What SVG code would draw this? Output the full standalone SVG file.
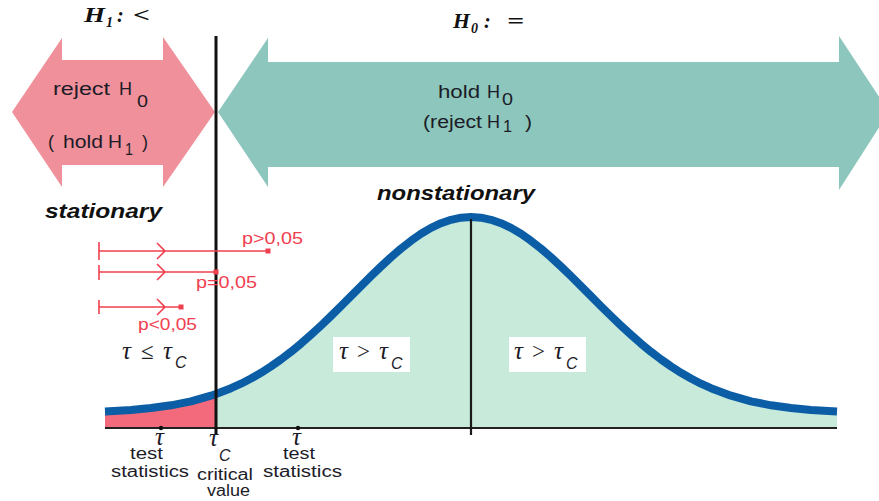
<svg xmlns="http://www.w3.org/2000/svg" width="879" height="501" viewBox="0 0 879 501">
<style>
.t{font-family:"Liberation Sans",Arial,sans-serif;font-size:18px;fill:#1c1c28}
.s{font-size:16px}
.b{font-size:16px}
.r{font-family:"Liberation Sans",Arial,sans-serif;font-size:16px;fill:#f0404f}
.bi{font-family:"Liberation Sans",Arial,sans-serif;font-size:20px;font-weight:bold;font-style:italic;fill:#111}
.tau{font-family:"Liberation Serif","Times New Roman",serif;font-style:italic;font-size:25px;fill:#1c1c28}
.op{font-family:"Liberation Serif","Times New Roman",serif;font-size:23px;fill:#1c1c28}
.c{font-family:"Liberation Sans",Arial,sans-serif;font-style:italic;font-size:16px;fill:#1c1c28}
.h{font-family:"Liberation Serif","Times New Roman",serif;font-weight:bold;font-style:italic;font-size:20px;fill:#111}
.hs{font-family:"Liberation Serif","Times New Roman",serif;font-weight:bold;font-style:italic;font-size:14px;fill:#111}
.red{stroke:#f0404f;stroke-width:1.6;fill:none}
.box{fill:#fff}
</style>
<g id="reject-arrow">
<polygon points="12,112 62,38 62,60 163,60 163,37 215,112 163,187 163,165 62,165 62,187" fill="#f0909a"/>
<text class="t" x="53" y="95" textLength="57" lengthAdjust="spacingAndGlyphs">reject</text>
<text class="t" x="119" y="95" textLength="13" lengthAdjust="spacingAndGlyphs">H</text>
<text class="t s" x="137" y="107" textLength="11" lengthAdjust="spacingAndGlyphs">0</text>
<text class="t" x="48" y="148" textLength="6" lengthAdjust="spacingAndGlyphs">(</text>
<text class="t" x="63" y="148" textLength="40" lengthAdjust="spacingAndGlyphs">hold</text>
<text class="t" x="108" y="148" textLength="14" lengthAdjust="spacingAndGlyphs">H</text>
<text class="t s" x="125" y="155" textLength="8" lengthAdjust="spacingAndGlyphs">1</text>
<text class="t" x="142" y="148" textLength="6" lengthAdjust="spacingAndGlyphs">)</text>
</g>
<g id="hold-arrow">
<polygon points="218,112 268,38 268,62 839,62 839,36 889,112 839,190 839,167 268,167 268,187" fill="#8cc6bc"/>
<text class="t" x="438" y="98" textLength="42" lengthAdjust="spacingAndGlyphs">hold</text>
<text class="t" x="487" y="98" textLength="13" lengthAdjust="spacingAndGlyphs">H</text>
<text class="t s" x="502" y="105" textLength="11" lengthAdjust="spacingAndGlyphs">0</text>
<text class="t" x="423" y="128" textLength="59" lengthAdjust="spacingAndGlyphs">(reject</text>
<text class="t" x="487" y="128" textLength="13" lengthAdjust="spacingAndGlyphs">H</text>
<text class="t s" x="503" y="132" textLength="9" lengthAdjust="spacingAndGlyphs">1</text>
<text class="t" x="525" y="128" textLength="7" lengthAdjust="spacingAndGlyphs">)</text>
</g>
<g id="h1-label">
<text class="h" x="84" y="22" textLength="21" lengthAdjust="spacingAndGlyphs">H</text>
<text class="hs" x="106" y="27">1</text>
<text class="h" x="117" y="22">:</text>
<text class="h" x="133" y="22" textLength="17" lengthAdjust="spacingAndGlyphs" font-style="normal" font-weight="normal">&lt;</text>
</g>
<g id="h0-label">
<text class="h" x="453" y="28" textLength="17" lengthAdjust="spacingAndGlyphs">H</text>
<text class="hs" x="471" y="33">0</text>
<text class="h" x="484" y="28">:</text>
<text class="h" x="507" y="28" textLength="17" lengthAdjust="spacingAndGlyphs" font-style="normal" font-weight="normal">=</text>
</g>
<g id="stationary"><text class="bi" x="45" y="218" textLength="117" lengthAdjust="spacingAndGlyphs">stationary</text></g>
<g id="nonstationary"><text class="bi" x="377" y="200" textLength="158" lengthAdjust="spacingAndGlyphs">nonstationary</text></g>
<g id="distribution">
<path d="M105,428 L105,411.4 L131,409.9 L151,408 L171,405.3 L191,401.3 L211,395.7 L216,394 L216,428 Z" fill="#f26a7c"/>
<path d="M216,428 L216,394 L231,388.2 L241,383.7 L251,378.5 L261,372.8 L271,366.4 L281,359.4 L291,351.8 L301,343.6 L311,334.8 L321,325.6 L331,316 L341,306.2 L351,296.1 L361,286.1 L371,276.1 L381,266.5 L391,257.2 L401,248.6 L411,240.8 L421,233.8 L431,227.9 L441,223.2 L451,219.8 L461,217.7 L471,217 L481,217.7 L491,219.8 L501,223.2 L511,227.9 L521,233.8 L531,240.8 L541,248.6 L551,257.2 L561,266.5 L571,276.1 L581,286.1 L591,296.1 L601,306.2 L611,316 L621,325.6 L631,334.8 L641,343.6 L651,351.8 L661,359.4 L671,366.4 L681,372.8 L691,378.5 L701,383.7 L711,388.2 L731,395.7 L751,401.3 L771,405.3 L791,408 L811,409.9 L837,411.4 L837,428 Z" fill="#c7eadb"/>
<line x1="105" y1="428" x2="837" y2="428" stroke="#222" stroke-width="2"/>
<path d="M105,411.4 L131,409.9 L151,408 L171,405.3 L191,401.3 L211,395.7 L216,394 L231,388.2 L241,383.7 L251,378.5 L261,372.8 L271,366.4 L281,359.4 L291,351.8 L301,343.6 L311,334.8 L321,325.6 L331,316 L341,306.2 L351,296.1 L361,286.1 L371,276.1 L381,266.5 L391,257.2 L401,248.6 L411,240.8 L421,233.8 L431,227.9 L441,223.2 L451,219.8 L461,217.7 L471,217 L481,217.7 L491,219.8 L501,223.2 L511,227.9 L521,233.8 L531,240.8 L541,248.6 L551,257.2 L561,266.5 L571,276.1 L581,286.1 L591,296.1 L601,306.2 L611,316 L621,325.6 L631,334.8 L641,343.6 L651,351.8 L661,359.4 L671,366.4 L681,372.8 L691,378.5 L701,383.7 L711,388.2 L731,395.7 L751,401.3 L771,405.3 L791,408 L811,409.9 L837,411.4" fill="none" stroke="#0b5ea6" stroke-width="8" stroke-linejoin="round"/>
<line x1="471" y1="219" x2="471" y2="435" stroke="#1a1a1a" stroke-width="2.2"/>
<circle cx="161" cy="428" r="2.2" fill="#111"/>
<circle cx="298" cy="428" r="2.2" fill="#111"/>
</g>
<g id="region-left">
<text class="tau" x="122" y="359">τ</text>
<text class="op" x="141" y="359">≤</text>
<text class="tau" x="163" y="359">τ</text>
<text class="c" x="175" y="368">C</text>
</g>
<g id="region-mid">
<rect class="box" x="333" y="337" width="77" height="35"/>
<text class="tau" x="339" y="359">τ</text>
<text class="op" x="357" y="359">&gt;</text>
<text class="tau" x="379" y="359">τ</text>
<text class="c" x="391" y="369">C</text>
</g>
<g id="region-right">
<rect class="box" x="509" y="337" width="77" height="35"/>
<text class="tau" x="514" y="359">τ</text>
<text class="op" x="532" y="359">&gt;</text>
<text class="tau" x="554" y="359">τ</text>
<text class="c" x="566" y="369">C</text>
</g>
<g id="critical-line"><line x1="216" y1="36" x2="216" y2="435" stroke="#111" stroke-width="3"/></g>
<g id="connectors">
<g id="p-greater">
<path class="red" d="M99,242 V260 M99,251 H268 M157,243 L165,251 L157,259"/>
<rect x="265.5" y="248.5" width="5" height="5" fill="#f0404f"/>
<text class="r" x="242" y="244" textLength="61" lengthAdjust="spacingAndGlyphs">p&gt;0,05</text>
</g>
<g id="p-equal">
<path class="red" d="M99,265 V280 M99,272 H216 M157,264 L165,272 L157,280"/>
<rect x="213.5" y="269.5" width="5" height="5" fill="#f0404f"/>
<text class="r" x="196" y="288" textLength="61" lengthAdjust="spacingAndGlyphs">p=0,05</text>
</g>
<g id="p-less">
<path class="red" d="M99,300 V314 M99,307 H181 M157,299 L165,307 L157,315"/>
<rect x="178.5" y="304.5" width="5" height="5" fill="#f0404f"/>
<text class="r" x="138" y="330" textLength="59" lengthAdjust="spacingAndGlyphs">p&lt;0,05</text>
</g>
</g>
<g id="axis-labels">
<text class="tau" x="155" y="445" font-size="20">τ</text>
<text class="t b" x="130" y="459" textLength="33" lengthAdjust="spacingAndGlyphs">test</text>
<text class="t b" x="111" y="477" textLength="78" lengthAdjust="spacingAndGlyphs">statistics</text>
<text class="tau" x="209" y="446" font-size="20">τ</text>
<text class="c" x="219" y="461" font-size="14">C</text>
<text class="t b" x="197" y="480" textLength="56" lengthAdjust="spacingAndGlyphs">critical</text>
<text class="t b" x="207" y="496" textLength="43" lengthAdjust="spacingAndGlyphs">value</text>
<text class="tau" x="292" y="445" font-size="20">τ</text>
<text class="t b" x="283" y="459" textLength="32" lengthAdjust="spacingAndGlyphs">test</text>
<text class="t b" x="263" y="477" textLength="79" lengthAdjust="spacingAndGlyphs">statistics</text>
</g>
</svg>
